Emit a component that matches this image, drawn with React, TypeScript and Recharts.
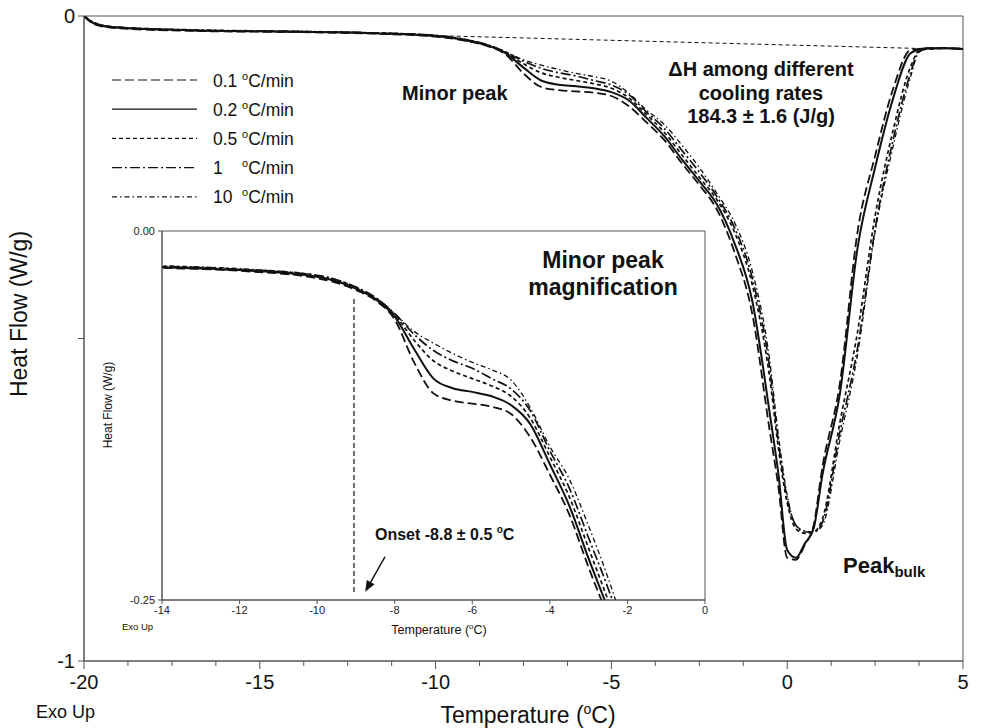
import { LineChart, Line, XAxis, YAxis, ReferenceArea, ReferenceLine } from 'recharts';

// temperature grid (°C) shared by all five DSC curves
const temps = [
  -20, -19.8, -19.5, -19, -17, -14, -12, -10, -9, -8.5, -8, -7.5, -7, -6.5, -6, -5.5, -5, -4.5, -4, -3.5,
  -3, -2.5, -2, -1.5, -1, -0.5, -0.25, 0, 0.25, 0.5, 0.75, 1, 1.5, 2, 2.5, 3, 3.5, 3.75, 4, 4.5, 5,
];

const rates = ['0.1', '0.2', '0.5', '1', '10'];

// heat flow (W/g), one array per cooling rate
const flow01 = [
  0, -0.01, -0.016, -0.019, -0.023, -0.025, -0.027, -0.032, -0.04, -0.047, -0.06, -0.089, -0.11, -0.115, -0.117,
  -0.119, -0.124, -0.14, -0.165, -0.192, -0.228, -0.262, -0.3, -0.366, -0.46, -0.642, -0.73, -0.84, -0.843, -0.82,
  -0.79, -0.7, -0.569, -0.335, -0.217, -0.115, -0.053, -0.051, -0.05, -0.05, -0.051,
];
const flow02 = [
  0, -0.009, -0.015, -0.018, -0.022, -0.0245, -0.0265, -0.031, -0.039, -0.046, -0.058, -0.08, -0.1, -0.1065, -0.109,
  -0.112, -0.118, -0.131, -0.158, -0.186, -0.222, -0.256, -0.292, -0.352, -0.44, -0.615, -0.71, -0.828, -0.84, -0.818,
  -0.795, -0.712, -0.585, -0.36, -0.235, -0.13, -0.058, -0.052, -0.05, -0.05, -0.051,
];
const flow05 = [
  0, -0.009, -0.015, -0.018, -0.022, -0.024, -0.026, -0.031, -0.039, -0.046, -0.057, -0.074, -0.088, -0.095, -0.1,
  -0.105, -0.112, -0.127, -0.153, -0.18, -0.215, -0.25, -0.285, -0.335, -0.415, -0.56, -0.67, -0.755, -0.795, -0.802,
  -0.8, -0.78, -0.63, -0.49, -0.31, -0.18, -0.08, -0.054, -0.051, -0.05, -0.051,
];
const flow1 = [
  0, -0.008, -0.014, -0.018, -0.022, -0.024, -0.026, -0.03, -0.038, -0.045, -0.056, -0.07, -0.081, -0.088, -0.093,
  -0.1, -0.107, -0.122, -0.149, -0.174, -0.208, -0.242, -0.28, -0.328, -0.405, -0.545, -0.66, -0.748, -0.79, -0.8,
  -0.8, -0.785, -0.645, -0.515, -0.33, -0.195, -0.09, -0.055, -0.051, -0.05, -0.051,
];
const flow10 = [
  0, -0.007, -0.014, -0.017, -0.021, -0.0235, -0.0255, -0.03, -0.038, -0.045, -0.056, -0.068, -0.076, -0.083, -0.089,
  -0.094, -0.101, -0.12, -0.146, -0.168, -0.2, -0.235, -0.275, -0.32, -0.394, -0.533, -0.65, -0.743, -0.79, -0.798,
  -0.8, -0.79, -0.657, -0.525, -0.335, -0.205, -0.096, -0.056, -0.051, -0.05, -0.051,
];

// dashed enthalpy baseline, onset marker and arrow
const baselineTemps = [-9.6, 4.2];
const baselineFlows = [-0.031, -0.051];
const onsetTemps = [-9.05, -9.05];
const onsetFlows = [-0.046, -0.245];
const arrowTemps = [-8.25, -8.76];
const arrowFlows = [-0.2207, -0.2444];

// axis ticks
const mainXTicks = [
  -20, -18.75, -17.5, -16.25, -15, -13.75, -12.5, -11.25, -10, -8.75, -7.5, -6.25, -5, -3.75, -2.5, -1.25, 0, 1.25,
  2.5, 3.75, 5,
];
const mainXLabels = [-20, -15, -10, -5, 0, 5];
const mainYTicks = [-1, -0.5, 0];
const insetXTicks = [-14, -12, -10, -8, -6, -4, -2, 0];
const insetYTicks = [-0.25, 0];

const flows = [flow01, flow02, flow05, flow1, flow10];
const rows = temps.map((t, i) => {
  const row: Record<string, number> = { t };
  flows.forEach((f, k) => (row['s' + k] = f[i]));
  return row;
});
const baselineData = baselineTemps.map((t, i) => ({ t, y: baselineFlows[i] }));
const onsetData = onsetTemps.map((t, i) => ({ t, y: onsetFlows[i] }));

const FONT = '"Liberation Sans", Arial, Helvetica, sans-serif';
const INK = '#111';
const AXIS = '#555';
const dashes = ['9 4', '', '4 3', '10 3 2 3', '5 3 1.5 3'];
const widths = [1.8, 2, 1.7, 1.7, 1.3];

function MainXTick({ x, y, payload }: any) {
  const major = mainXLabels.includes(payload.value);
  return (
    <g>
      <line x1={x} y1={y} x2={x} y2={y + (major ? 8 : 5)} stroke={AXIS} strokeWidth={1} />
      {major && (
        <text x={x} y={y + 14} dy="0.71em" textAnchor="middle" fontSize={20} fill={INK} fontFamily={FONT}>
          {payload.value}
        </text>
      )}
    </g>
  );
}

function Arrow({ x1, y1, x2, y2 }: any) {
  const ang = Math.atan2(y2 - y1, x2 - x1);
  const bx = x2 - 11 * Math.cos(ang);
  const by = y2 - 11 * Math.sin(ang);
  const px = -Math.sin(ang) * 4.5;
  const py = Math.cos(ang) * 4.5;
  return (
    <g>
      <line x1={x1} y1={y1} x2={bx} y2={by} stroke={INK} strokeWidth={1.5} />
      <polygon points={`${x2},${y2} ${bx + px},${by + py} ${bx - px},${by - py}`} fill={INK} />
    </g>
  );
}

function seriesLines() {
  return rates.map((r, k) => (
    <Line
      key={r}
      type="monotone"
      dataKey={'s' + k}
      stroke={INK}
      strokeWidth={widths[k]}
      strokeDasharray={dashes[k] || undefined}
      dot={false}
      activeDot={false}
      isAnimationActive={false}
    />
  ));
}

export default function App() {
  return (
    <div style={{ position: 'absolute', left: 0, top: 0, width: 992, height: 728, background: '#fff', fontFamily: FONT }}>
      <div style={{ position: 'absolute', left: 0, top: 0 }}>
        <LineChart width={992} height={728} data={rows} margin={{ top: 16, right: 29, bottom: 27, left: 24 }}>
          <XAxis
            type="number"
            dataKey="t"
            domain={[-20, 5]}
            ticks={mainXTicks}
            interval={0}
            tickSize={0}
            tickMargin={0}
            tick={<MainXTick />}
            height={40}
            stroke={AXIS}
            allowDataOverflow
          />
          <YAxis
            type="number"
            domain={[-1, 0]}
            ticks={mainYTicks}
            interval={0}
            width={60}
            tickSize={6}
            tickMargin={3}
            tickFormatter={(v: number) => (v === -0.5 ? '' : String(v))}
            tick={{ fontSize: 20, fill: INK, fontFamily: FONT }}
            stroke={AXIS}
            allowDataOverflow
          />
          <ReferenceArea x1={-20} x2={5} y1={-1} y2={0} fill="none" stroke={AXIS} strokeWidth={1} />
          <Line
            data={baselineData}
            type="linear"
            dataKey="y"
            stroke={INK}
            strokeWidth={1}
            strokeDasharray="4 3"
            dot={false}
            activeDot={false}
            isAnimationActive={false}
          />
          {seriesLines()}
        </LineChart>
      </div>

      <div style={{ position: 'absolute', left: 95, top: 220, width: 617, height: 420, background: '#fff' }}>
        <LineChart width={617} height={420} data={rows} margin={{ top: 11, right: 7, bottom: 18, left: 17 }}>
          <XAxis
            type="number"
            dataKey="t"
            domain={[-14, 0]}
            ticks={insetXTicks}
            interval={0}
            tickSize={4}
            tickMargin={2}
            tick={{ fontSize: 11, fill: '#222', fontFamily: FONT }}
            height={22}
            stroke={AXIS}
            allowDataOverflow
          />
          <YAxis
            type="number"
            domain={[-0.25, 0]}
            ticks={insetYTicks}
            interval={0}
            width={50}
            tickSize={4}
            tickMargin={3}
            tickFormatter={(v: number) => v.toFixed(2)}
            tick={{ fontSize: 11, fill: '#222', fontFamily: FONT }}
            stroke={AXIS}
            allowDataOverflow
          />
          <ReferenceArea x1={-14} x2={0} y1={-0.25} y2={0} fill="none" stroke={AXIS} strokeWidth={1} />
          <Line
            data={onsetData}
            type="linear"
            dataKey="y"
            stroke={INK}
            strokeWidth={1.2}
            strokeDasharray="5 3"
            dot={false}
            activeDot={false}
            isAnimationActive={false}
          />
          <ReferenceLine
            segment={[
              { x: arrowTemps[0], y: arrowFlows[0] },
              { x: arrowTemps[1], y: arrowFlows[1] },
            ]}
            stroke={INK}
            shape={<Arrow />}
          />
          {seriesLines()}
        </LineChart>
      </div>

      <svg
        width={992}
        height={728}
        style={{ position: 'absolute', left: 0, top: 0, pointerEvents: 'none' }}
        fontFamily={FONT}
        fill={INK}
      >
        {/* legend */}
        {rates.map((r, k) => {
          const cy = 80 + k * 29.2;
          return (
            <g key={r}>
              <line x1={112} y1={cy} x2={197} y2={cy} stroke={INK} strokeWidth={1.2} strokeDasharray={dashes[k] || undefined} />
              <text x={213} y={cy + 6.5} fontSize={17.5}>
                {r}
              </text>
              <text x={242} y={cy + 6.5} fontSize={17.5}>
                <tspan fontSize={11} dy={-7}>
                  o
                </tspan>
                <tspan dy={7}>C/min</tspan>
              </text>
            </g>
          );
        })}

        {/* main axis titles */}
        <text transform="translate(27,314) rotate(-90)" textAnchor="middle" fontSize={23}>
          Heat Flow (W/g)
        </text>
        <text x={528} y={723} textAnchor="middle" fontSize={23}>
          Temperature (<tspan fontSize={14} dy={-9}>o</tspan>
          <tspan dy={9}>C)</tspan>
        </text>
        <text x={36} y={718} fontSize={18}>
          Exo Up
        </text>

        {/* annotations */}
        <text x={402} y={100} fontSize={20} fontWeight="bold">
          Minor peak
        </text>
        <text x={761} y={76} textAnchor="middle" fontSize={20} fontWeight="bold">
          ΔH among different
        </text>
        <text x={761} y={100} textAnchor="middle" fontSize={20} fontWeight="bold">
          cooling rates
        </text>
        <text x={761} y={123} textAnchor="middle" fontSize={20} fontWeight="bold">
          184.3 ± 1.6 (J/g)
        </text>
        <text x={843} y={573} fontSize={22} fontWeight="bold">
          Peak<tspan fontSize={15} dy={4}>bulk</tspan>
        </text>

        {/* inset texts */}
        <text x={603} y={268} textAnchor="middle" fontSize={23} fontWeight="bold">
          Minor peak
        </text>
        <text x={603} y={295} textAnchor="middle" fontSize={23} fontWeight="bold">
          magnification
        </text>
        <text x={375} y={540} fontSize={16} fontWeight="bold">
          Onset -8.8 ± 0.5 <tspan fontSize={10} dy={-7}>o</tspan>
          <tspan dy={7}>C</tspan>
        </text>
        <text transform="translate(112,405) rotate(-90)" textAnchor="middle" fontSize={12}>
          Heat Flow (W/g)
        </text>
        <text x={439} y={634} textAnchor="middle" fontSize={12.5}>
          Temperature (<tspan fontSize={8} dy={-5}>o</tspan>
          <tspan dy={5}>C)</tspan>
        </text>
        <text x={122} y={630} fontSize={9.5}>
          Exo Up
        </text>
      </svg>
    </div>
  );
}
